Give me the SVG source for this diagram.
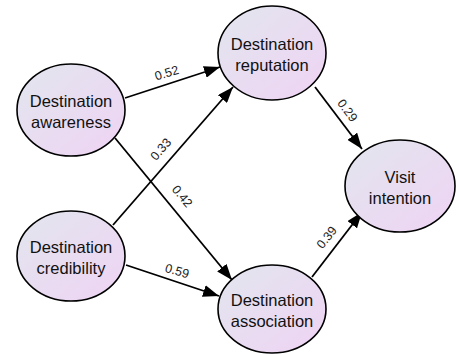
<svg xmlns="http://www.w3.org/2000/svg" width="459" height="354" viewBox="0 0 459 354">
<defs>
<linearGradient id="g" x1="0" y1="0" x2="1" y2="1">
<stop offset="0" stop-color="#e2e6ee"/>
<stop offset="1" stop-color="#efd3f4"/>
</linearGradient>
<marker id="ah" markerUnits="userSpaceOnUse" markerWidth="17" markerHeight="12" refX="16" refY="6" orient="auto">
<path d="M0,0 L16,6 L0,12 z" fill="#000"/>
</marker>
</defs>
<style>
.n ellipse{fill:url(#g);stroke:#000;stroke-width:1.6}
.n text{font-family:"Liberation Sans",Arial,sans-serif;font-size:16.5px;fill:#111;text-anchor:middle}
.c line{stroke:#000;stroke-width:1.8;marker-end:url(#ah)}
.c text{font-family:"Liberation Sans",Arial,sans-serif;font-size:12.5px;fill:#222;text-anchor:middle}
</style>
<rect width="459" height="354" fill="#fff"/>
<g class="c" id="connectors">
<line x1="125" y1="98" x2="220" y2="67"/>
<line x1="113" y1="225" x2="233" y2="87"/>
<line x1="115" y1="138" x2="232" y2="280"/>
<line x1="126" y1="265" x2="219" y2="296"/>
<line x1="315" y1="87" x2="362" y2="149"/>
<line x1="312" y1="277" x2="362" y2="212"/>
<text transform="translate(168,77) rotate(-17)">0.52</text>
<text transform="translate(164,152) rotate(-49)">0.33</text>
<text transform="translate(179,199) rotate(50)">0.42</text>
<text transform="translate(176,275) rotate(16)">0.59</text>
<text transform="translate(344,113) rotate(53)">0.29</text>
<text transform="translate(330,240) rotate(-52)">0.39</text>
</g>
<g class="n" id="awareness">
<ellipse cx="71" cy="110" rx="54" ry="46"/>
<text x="71" y="107">Destination</text>
<text x="71" y="128">awareness</text>
</g>
<g class="n" id="reputation">
<ellipse cx="272" cy="53" rx="54" ry="47"/>
<text x="272" y="50">Destination</text>
<text x="272" y="71">reputation</text>
</g>
<g class="n" id="visit">
<ellipse cx="400" cy="186" rx="55" ry="46"/>
<text x="400" y="183">Visit</text>
<text x="400" y="204">intention</text>
</g>
<g class="n" id="credibility">
<ellipse cx="71" cy="256" rx="54" ry="45"/>
<text x="71" y="253">Destination</text>
<text x="71" y="274">credibility</text>
</g>
<g class="n" id="association">
<ellipse cx="272" cy="309" rx="54" ry="44"/>
<text x="272" y="306">Destination</text>
<text x="272" y="327">association</text>
</g>
</svg>
